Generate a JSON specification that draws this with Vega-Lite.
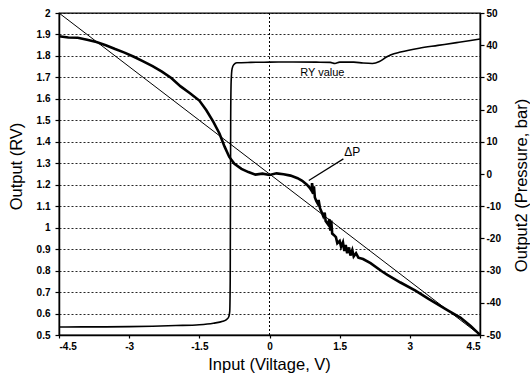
{
  "$schema": "https://vega.github.io/schema/vega-lite/v6.json",
  "width": 421,
  "height": 322,
  "autosize": {"type": "none"},
  "padding": {"left": 59, "top": 13, "right": 50, "bottom": 48},
  "background": "white",
  "config": {
    "view": {"stroke": "black", "strokeWidth": 1.3},
    "font": "Liberation Sans",
    "axis": {
      "labelColor": "black",
      "tickColor": "black",
      "domainColor": "black",
      "titleColor": "black",
      "labelFont": "Liberation Sans",
      "titleFont": "Liberation Sans",
      "labelFontSize": 10,
      "labelFontWeight": "bold",
      "titleFontSize": 16.5,
      "titleFontWeight": "normal",
      "domainWidth": 1.5,
      "tickWidth": 1.2
    }
  },
  "datasets": {
    "rv": [
      {"x": -4.5, "v": 0.537}, {"x": -4.0, "v": 0.538}, {"x": -3.5, "v": 0.538}, {"x": -3.0, "v": 0.539},
      {"x": -2.5, "v": 0.541}, {"x": -2.0, "v": 0.544}, {"x": -1.5, "v": 0.548}, {"x": -1.2, "v": 0.555},
      {"x": -1.0, "v": 0.564}, {"x": -0.92, "v": 0.572}, {"x": -0.87, "v": 0.585}, {"x": -0.85, "v": 0.61},
      {"x": -0.84, "v": 0.75}, {"x": -0.835, "v": 1.1}, {"x": -0.83, "v": 1.5}, {"x": -0.82, "v": 1.68},
      {"x": -0.8, "v": 1.74}, {"x": -0.76, "v": 1.76}, {"x": -0.7, "v": 1.768}, {"x": -0.4, "v": 1.77},
      {"x": 0.0, "v": 1.771}, {"x": 0.5, "v": 1.772}, {"x": 1.0, "v": 1.771}, {"x": 1.3, "v": 1.77},
      {"x": 1.4, "v": 1.765}, {"x": 1.5, "v": 1.771}, {"x": 1.8, "v": 1.771}, {"x": 2.0, "v": 1.767},
      {"x": 2.2, "v": 1.765}, {"x": 2.35, "v": 1.774}, {"x": 2.5, "v": 1.795}, {"x": 2.6, "v": 1.806},
      {"x": 2.8, "v": 1.818}, {"x": 3.2, "v": 1.836}, {"x": 3.6, "v": 1.849}, {"x": 4.0, "v": 1.862},
      {"x": 4.3, "v": 1.872}, {"x": 4.5, "v": 1.879}
    ],
    "diag": [{"x": -4.5, "v": 2.0}, {"x": 4.5, "v": 0.5}],
    "dp": [
      {"x": -4.5, "p": 42.8}, {"x": -4.3, "p": 42.4}, {"x": -4.1, "p": 42.3}, {"x": -3.9, "p": 41.7},
      {"x": -3.7, "p": 41.0}, {"x": -3.5, "p": 40.0}, {"x": -3.3, "p": 38.8}, {"x": -3.1, "p": 37.7},
      {"x": -2.9, "p": 36.4}, {"x": -2.7, "p": 35.0}, {"x": -2.5, "p": 33.5}, {"x": -2.3, "p": 31.8},
      {"x": -2.1, "p": 29.8}, {"x": -1.9, "p": 27.2}, {"x": -1.7, "p": 25.1}, {"x": -1.5, "p": 22.8},
      {"x": -1.35, "p": 19.8}, {"x": -1.2, "p": 16.2}, {"x": -1.07, "p": 12.6}, {"x": -0.96, "p": 8.5},
      {"x": -0.86, "p": 5.3}, {"x": -0.75, "p": 3.2}, {"x": -0.6, "p": 1.6}, {"x": -0.45, "p": 0.6},
      {"x": -0.3, "p": -0.2}, {"x": -0.15, "p": 0.1}, {"x": 0.0, "p": -0.3}, {"x": 0.15, "p": 0.2},
      {"x": 0.3, "p": -0.1}, {"x": 0.45, "p": -0.5}, {"x": 0.6, "p": -1.3}, {"x": 0.7, "p": -2.1},
      {"x": 0.8, "p": -3.3}, {"x": 0.86, "p": -4.3}, {"x": 0.9, "p": -5.2}, {"x": 0.91, "p": -2.8},
      {"x": 0.93, "p": -6.2}, {"x": 0.95, "p": -3.8}, {"x": 0.97, "p": -7.3}, {"x": 1.0, "p": -8.4},
      {"x": 1.03, "p": -9.2}, {"x": 1.05, "p": -8.1}, {"x": 1.08, "p": -10.6}, {"x": 1.12, "p": -12.0},
      {"x": 1.15, "p": -13.1}, {"x": 1.18, "p": -12.0}, {"x": 1.2, "p": -14.6}, {"x": 1.25, "p": -15.6},
      {"x": 1.28, "p": -14.0}, {"x": 1.3, "p": -17.6}, {"x": 1.32, "p": -14.5}, {"x": 1.34, "p": -18.5},
      {"x": 1.38, "p": -19.0}, {"x": 1.42, "p": -19.6}, {"x": 1.45, "p": -21.5}, {"x": 1.5, "p": -20.8},
      {"x": 1.53, "p": -22.6}, {"x": 1.57, "p": -21.2}, {"x": 1.6, "p": -23.9}, {"x": 1.63, "p": -22.0},
      {"x": 1.66, "p": -24.6}, {"x": 1.7, "p": -22.8}, {"x": 1.73, "p": -25.3}, {"x": 1.77, "p": -23.6},
      {"x": 1.8, "p": -25.6}, {"x": 1.85, "p": -24.6}, {"x": 1.9, "p": -26.0}, {"x": 2.0, "p": -26.4},
      {"x": 2.16, "p": -27.7}, {"x": 2.4, "p": -30.2}, {"x": 2.52, "p": -31.3}, {"x": 2.8, "p": -33.7},
      {"x": 3.12, "p": -36.2}, {"x": 3.4, "p": -38.8}, {"x": 3.82, "p": -42.4}, {"x": 4.08, "p": -44.6},
      {"x": 4.3, "p": -47.2}, {"x": 4.46, "p": -49.4}, {"x": 4.5, "p": -50.0}
    ]
  },
  "encoding": {
    "x": {
      "field": "x",
      "type": "quantitative",
      "scale": {"domain": [-4.5, 4.5], "nice": false, "zero": false},
      "axis": {
        "values": [-4.5, -3, -1.5, 0, 1.5, 3, 4.5],
        "labelExpr": "datum.value + ''",
        "grid": false,
        "tickSize": 3,
        "labelPadding": 3,
        "title": "Input (Viltage, V)",
        "titleX": 210,
        "titleY": 29,
        "titleBaseline": "middle",
        "titleAlign": "center"
      }
    }
  },
  "layer": [
    {
      "data": {"values": [{"x": 0}]},
      "mark": {"type": "rule", "color": "black", "strokeDash": [2, 2], "strokeWidth": 1}
    },
    {
      "encoding": {
        "y": {
          "field": "v",
          "type": "quantitative",
          "scale": {"domain": [0.5, 2], "nice": false, "zero": false},
          "axis": {
            "orient": "left",
            "values": [0.5, 0.6, 0.7, 0.8, 0.9, 1, 1.1, 1.2, 1.3, 1.4, 1.5, 1.6, 1.7, 1.8, 1.9, 2],
            "labelExpr": "datum.value + ''",
            "grid": true,
            "gridColor": "black",
            "gridDash": [2, 2],
            "gridWidth": 1,
            "gridOpacity": 0.85,
            "tickSize": 4,
            "labelPadding": 5,
            "title": "Output (RV)",
            "titleAngle": 270,
            "titleX": -43,
            "titleY": 153,
            "titleAlign": "center",
            "titleBaseline": "middle"
          }
        }
      },
      "layer": [
        {
          "data": {"name": "diag"},
          "mark": {"type": "line", "color": "black", "strokeWidth": 1}
        },
        {
          "data": {"name": "rv"},
          "mark": {"type": "line", "color": "black", "strokeWidth": 1.6, "interpolate": "monotone"}
        },
        {
          "data": {"values": [{"x": 1.13, "v": 1.72, "t": "RY value"}]},
          "mark": {"type": "text", "font": "Liberation Sans", "fontSize": 11, "color": "black", "align": "center", "baseline": "middle"},
          "encoding": {"text": {"field": "t"}}
        }
      ]
    },
    {
      "encoding": {
        "y": {
          "field": "p",
          "type": "quantitative",
          "scale": {"domain": [-50, 50], "nice": false, "zero": false},
          "axis": {
            "orient": "right",
            "values": [-50, -40, -30, -20, -10, 0, 10, 20, 30, 40, 50],
            "labelExpr": "datum.value + ''",
            "grid": false,
            "tickSize": 4,
            "labelPadding": 2,
            "title": "Output2 (Pressure, bar)",
            "titleAngle": 270,
            "titleX": 41,
            "titleY": 172,
            "titleAlign": "center",
            "titleBaseline": "middle"
          }
        }
      },
      "layer": [
        {
          "data": {"name": "dp"},
          "mark": {"type": "line", "color": "black", "strokeWidth": 2.6}
        },
        {
          "data": {"values": [{"x": 0.84, "p": -2.0, "x2": 1.58, "p2": 4.7}]},
          "mark": {"type": "rule", "color": "black", "strokeWidth": 1.2},
          "encoding": {"x2": {"field": "x2"}, "y2": {"field": "p2"}}
        },
        {
          "data": {"values": [{"x": 1.77, "p": 6.8, "t": "ΔP"}]},
          "mark": {"type": "text", "font": "Liberation Sans", "fontSize": 12, "color": "black", "align": "center", "baseline": "middle"},
          "encoding": {"text": {"field": "t"}}
        }
      ]
    }
  ],
  "resolve": {"scale": {"y": "independent"}, "axis": {"y": "independent"}}
}
